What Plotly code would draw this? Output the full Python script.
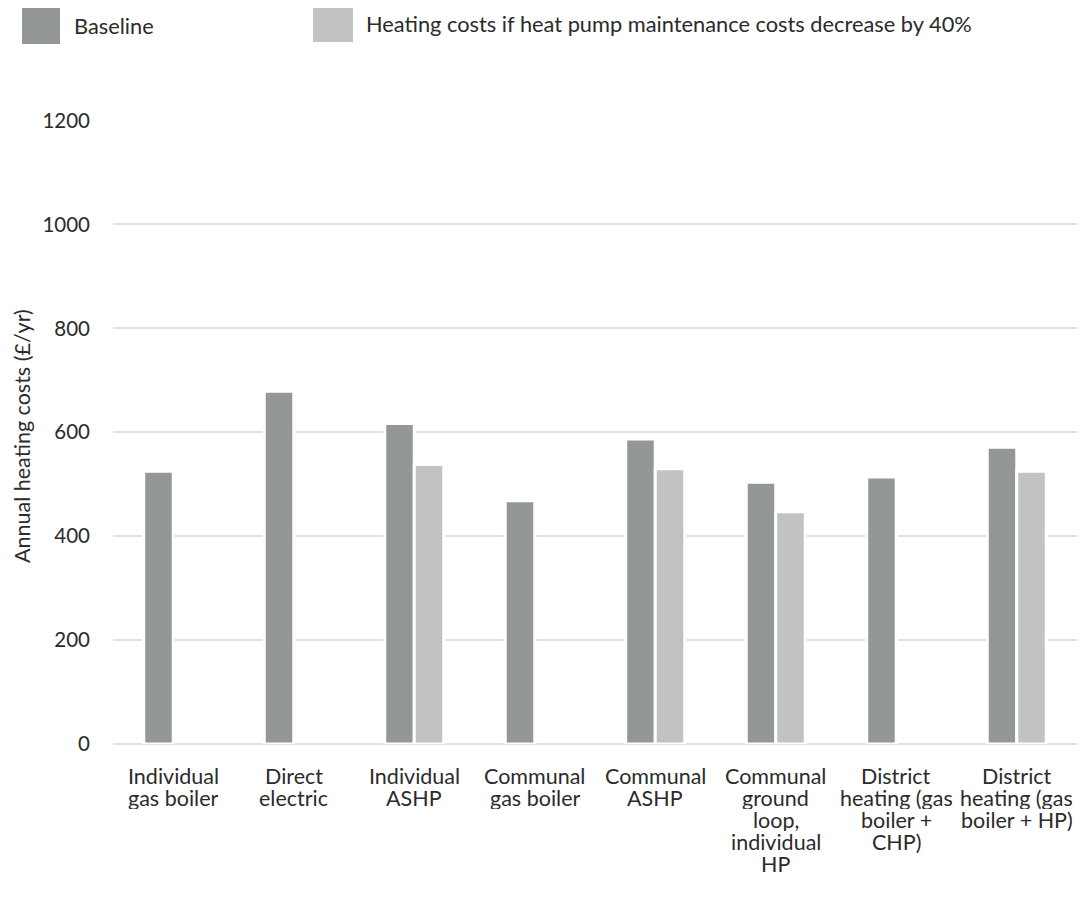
import plotly.graph_objects as go

categories = [
    "Individual<br>gas boiler",
    "Direct<br>electric",
    "Individual<br>ASHP",
    "Communal<br>gas boiler",
    "Communal<br>ASHP",
    "Communal<br>ground<br>loop,<br>individual<br>HP",
    "District<br>heating (gas<br>boiler +<br>CHP)",
    "District<br>heating (gas<br>boiler + HP)",
]
baseline = [525, 679, 617, 468, 587, 504, 514, 571]
reduced = [None, None, 538, None, 530, 447, None, 525]

series_names = ["Baseline", "Heating costs if heat pump maintenance costs decrease by 40%"]
colors = ["#949894", "#c1c3c0"]
y_ticks = [0, 200, 400, 600, 800, 1000, 1200]

FONT = "Lato"
TXT = "#2b2b2b"

OFF = 8  # page body margin
W, H = 1092 - OFF, 899 - OFF
# plot area in page pixels: x 113..1077, y 120..744
L = 113 - OFF
T = 120 - OFF
R = W - (1077 - OFF)
B = H - (744 - OFF)
pw, ph = W - L - R, H - T - B


def px(x):
    return (x - OFF - L) / pw


def py(y):
    return (H - B - (y - OFF)) / ph


fig = go.Figure()
x_idx = list(range(len(categories)))
for vals, name, col in zip([baseline, reduced], series_names, colors):
    fig.add_trace(go.Bar(
        x=x_idx, y=vals, name=name, marker_color=col,
        marker_line=dict(color="white", width=3),
        showlegend=False,
    ))

# manual legend (large squares like the reference), page pixel positions
leg = [(22, 60, 6, 44, 75), (313, 353, 5, 42, 367)]
for (x0, x1, y0, y1, tx), name, col in zip(leg, series_names, colors):
    fig.add_shape(type="rect", xref="paper", yref="paper",
                  x0=px(x0), x1=px(x1), y0=py(y1), y1=py(y0),
                  fillcolor=col, line=dict(width=0))
    fig.add_annotation(xref="paper", yref="paper", x=px(tx), y=py((y0 + y1) / 2),
                       text=name, showarrow=False, xanchor="left", yanchor="middle",
                       xshift=-3,
                       font=dict(family=FONT, size=21.8, color=TXT))

fig.add_annotation(xref="paper", yref="paper", x=px(22), y=py(436),
                   text="Annual heating costs (£/yr)", textangle=-90, showarrow=False,
                   xanchor="center", yanchor="middle",
                   font=dict(family=FONT, size=21.5, color=TXT))

# category labels, drawn line by line for the tighter line spacing of the reference
LINE_TOP = 776
LINE_STEP = 22
for i, lab in enumerate(categories):
    for j, line in enumerate(lab.split("<br>")):
        fig.add_annotation(xref="x", yref="paper", x=i, y=py(LINE_TOP + j * LINE_STEP),
                           text=line, showarrow=False, xanchor="center", yanchor="middle",
                           height=LINE_STEP, valign="middle", borderpad=0,
                           font=dict(family=FONT, size=21.5, color=TXT))

fig.update_layout(
    width=W, height=H,
    margin=dict(l=L, r=R, t=T, b=B, autoexpand=False),
    paper_bgcolor="white", plot_bgcolor="white",
    barmode="group", bargap=0.51, bargroupgap=0,
    font=dict(family=FONT, size=21, color=TXT),
)
fig.update_xaxes(
    tickmode="array", tickvals=x_idx, showticklabels=False,
    range=[-0.5, len(categories) - 0.5],
    showgrid=False, showline=False, zeroline=False, ticks="",
)
fig.update_yaxes(
    range=[0, 1201], tickmode="array", tickvals=y_ticks,
    showgrid=True, gridcolor="#e0e0e0", gridwidth=2,
    zeroline=True, zerolinecolor="#e0e0e0", zerolinewidth=2,
    showline=False, ticks="", ticklabelstandoff=22,
    tickfont=dict(family=FONT, size=20.5, color=TXT),
)

fig.write_html("out.html")
